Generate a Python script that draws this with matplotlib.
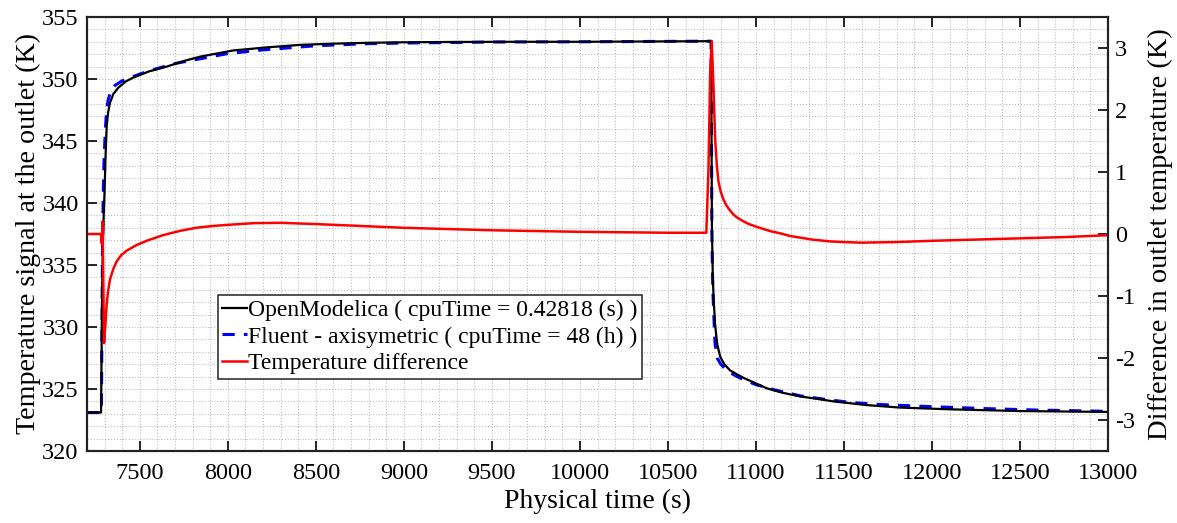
import numpy as np
import matplotlib
matplotlib.use("Agg")
import matplotlib.pyplot as plt
from matplotlib.ticker import MultipleLocator

plt.rcParams["font.family"] = ["Liberation Serif", "DejaVu Serif"]
plt.rcParams["axes.unicode_minus"] = False

# OpenModelica outlet temperature (K)
om_t = np.array([7200, 7280, 7283, 7286, 7290, 7295, 7300, 7306, 7312, 7320, 7331, 7350, 7378, 7420,
                 7461, 7550, 7653, 7750, 7842, 8030, 8221, 8410, 8600, 8800, 9000, 9200, 9600, 10000,
                 10745, 10747, 10750, 10755, 10760, 10768, 10780, 10797, 10820, 10853, 10890, 10929,
                 11000, 11062, 11150, 11251, 11350, 11440, 11630, 11819, 12103, 12500, 13000])
om_T = np.array([323.1, 323.1, 328, 333, 336.5, 339, 341, 344, 346.2, 347.3, 348.1, 348.8, 349.3, 349.8,
                 350.1, 350.6, 351.0, 351.45, 351.8, 352.3, 352.55, 352.75, 352.85, 352.92, 352.96, 352.98, 353.0, 353.0,
                 353.05, 348, 338, 334, 332.2, 330.2, 328.6, 327.6, 327.0, 326.5, 326.2, 325.9,
                 325.45, 325.05, 324.7, 324.4, 324.2, 324.0, 323.7, 323.5, 323.36, 323.22, 323.15])

# Fluent axisymmetric outlet temperature (K)
fl_t = np.array([7200, 7282, 7285, 7288, 7292, 7297, 7303, 7310, 7320, 7335, 7360, 7400, 7435, 7500,
                 7600, 7700, 7850, 8000, 8200, 8500, 8800, 9000, 9500, 10000, 10745, 10747, 10750,
                 10755, 10762, 10768, 10780, 10800, 10834, 10880, 10929, 11000, 11100, 11251, 11400,
                 11535, 11700, 12008, 12300, 12600, 13000])
fl_T = np.array([323.1, 323.1, 330, 336, 340.5, 343.5, 345.5, 347.3, 348.3, 349.0, 349.5, 349.85, 350.05, 350.4,
                 350.85, 351.25, 351.65, 352.05, 352.35, 352.68, 352.85, 352.9, 352.98, 353.0, 353.05, 347, 337,
                 333, 330.5, 328.6, 327.5, 327.0, 326.5, 326.1, 325.75, 325.35, 324.95, 324.45, 324.15,
                 323.92, 323.75, 323.57, 323.42, 323.3, 323.2])

# temperature difference (K), right axis
diff_t = np.array([7200, 7280, 7283, 7285, 7288, 7292, 7297, 7305, 7312, 7320, 7331, 7350, 7369, 7395,
                   7425, 7480, 7539, 7630, 7728, 7820, 7918, 8013, 8150, 8300, 8500, 8750, 9000, 9500,
                   10000, 10500, 10718, 10730, 10740, 10749, 10759, 10768, 10778, 10787, 10800, 10815,
                   10830, 10850, 10870, 10891, 10925, 10960, 11000, 11043, 11090, 11140, 11190, 11232,
                   11320, 11422, 11500, 11600, 11800, 12000, 12250, 12500, 12750, 13000])
diff_d = np.array([0.0, 0.0, -0.15, -0.15, 0.2, -0.6, -1.76, -1.45, -1.13, -0.92, -0.73, -0.56, -0.44, -0.34,
                   -0.27, -0.18, -0.11, -0.02, 0.05, 0.1, 0.13, 0.15, 0.175, 0.18, 0.16, 0.13, 0.1, 0.06,
                   0.035, 0.02, 0.02, 1.0, 2.6, 3.11, 2.36, 1.55, 1.1, 0.85, 0.68, 0.56,
                   0.47, 0.39, 0.32, 0.27, 0.21, 0.16, 0.12, 0.08, 0.04, 0.01, -0.03, -0.05,
                   -0.09, -0.12, -0.13, -0.14, -0.13, -0.11, -0.09, -0.07, -0.05, -0.02])

labels = ["OpenModelica ( cpuTime = 0.42818 (s) )",
          "Fluent - axisymetric ( cpuTime = 48 (h) )",
          "Temperature difference"]

fig = plt.figure(figsize=(11.77, 5.23), dpi=100)
ax = fig.add_axes([0.0739, 0.1377, 0.8675, 0.8298])
ax2 = ax.twinx()

grid_kw = dict(color="#bdbdbd", linestyle=":", linewidth=0.8)

l1, = ax.plot(om_t, om_T, color="black", lw=1.6, zorder=3)
l2, = ax.plot(fl_t, fl_T, color="#0000ff", lw=2.2, dashes=(4, 3), zorder=2)
l3, = ax2.plot(diff_t, diff_d, color="#ff0000", lw=1.8)

ax.set_xlim(7200, 13000)
ax.set_ylim(320, 355)
ax2.set_ylim(-3.5, 3.5)
ax.xaxis.set_major_locator(MultipleLocator(500))
ax.xaxis.set_minor_locator(MultipleLocator(100))
ax.yaxis.set_major_locator(MultipleLocator(5))
ax.yaxis.set_minor_locator(MultipleLocator(1))
ax2.yaxis.set_major_locator(MultipleLocator(1))

ax.grid(True, which="both", **grid_kw)
ax.set_axisbelow(True)

ax.tick_params(axis="both", which="major", direction="in", length=7, width=1.2, labelsize=17.5, pad=6)
ax.tick_params(axis="x", which="major", top=True, pad=9)
ax.tick_params(which="minor", length=0)
ax2.tick_params(axis="y", which="major", direction="in", length=7, width=1.2, labelsize=17.5, pad=5)
ax.set_xticks(np.arange(7500, 13001, 500))
ax.set_xticklabels([str(v) for v in range(7500, 13001, 500)])

for a in (ax, ax2):
    for s in a.spines.values():
        s.set_linewidth(1.5)
        s.set_color("#222222")

ax.set_xlabel("Physical time (s)", fontsize=20, labelpad=3)
ax.set_ylabel("Temperature signal at the outlet (K)", fontsize=20.2, labelpad=1)
ax2.set_ylabel("Difference in outlet temperature (K)", fontsize=20.5, labelpad=9)

leg = ax2.legend([l1, l2, l3], labels, loc="upper left", bbox_to_anchor=(0.128, 0.359),
                 fontsize=17, handlelength=1.05, handletextpad=0.05, borderpad=0.2,
                 labelspacing=0.2, borderaxespad=0, fancybox=False, framealpha=1)
leg.get_frame().set_edgecolor("#333333")
leg.get_frame().set_linewidth(1.2)

fig.savefig("out.png", dpi=100)
